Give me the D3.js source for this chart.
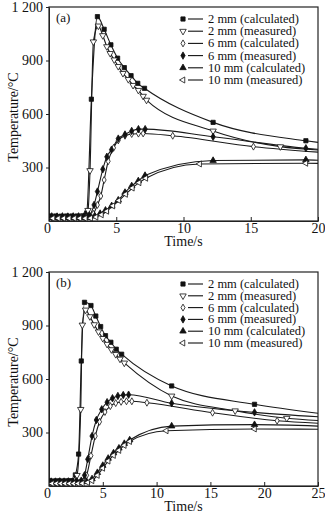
<!DOCTYPE html>
<html><head><meta charset="utf-8">
<script src="https://cdn.jsdelivr.net/npm/d3@7"></script>
<style>
html,body{margin:0;padding:0;background:#fff;}
svg text{font-family:"Liberation Serif","Times New Roman",serif;fill:#111;}
</style></head>
<body><svg id="c" width="325" height="516"></svg>
<script>
// ---------- data ----------
const seriesNames = ["2 mm (calculated)","2 mm (measured)","6 mm (calculated)","6 mm (measured)","10 mm (calculated)","10 mm (measured)"];
const yTicks = [300, 600, 900, 1200];
const xTicksA = [0, 5, 10, 15, 20];
const xTicksB = [0, 5, 10, 15, 20, 25];

// Panel (a)
const a2cT = [0.1,0.5,0.9,1.3,1.7,2.1,2.5,2.8,3.15,3.6,4.1,4.6,5.1,5.6,6.1,6.6,7.1,12.2,19.1,20];
const a2cV = [28,28,27,28,28,28,29,45,683,1146,1075,988,913,860,815,772,744,553,450,441];
const a2mT = [0.2,0.6,1.0,1.4,1.8,2.2,2.6,2.9,3.05,3.3,3.67,4.0,4.3,4.55,4.85,5.15,5.5,5.9,6.25,6.65,7.0,7.25,12.2,17.2,20];
const a2mV = [22,22,23,22,23,23,24,60,283,1005,1094,1040,978,940,904,867,828,794,761,733,700,678,505,417,398];
const a6cT = [0.3,0.7,1.1,1.5,1.9,2.3,2.7,3.1,3.3,3.6,3.85,4.1,4.4,4.8,5.15,5.65,6.15,6.65,7.0,9.2,15.2,20];
const a6cV = [20,20,19,20,20,20,20,24,40,90,140,230,335,410,452,478,488,490,491,478,417,386];
const a6mT = [0.2,0.6,1.0,1.4,1.8,2.2,2.6,3.0,3.35,3.6,4.0,4.3,4.65,5.15,5.65,6.15,6.65,7.15,12.2,19.1,20];
const a6mV = [26,25,26,25,26,26,26,32,90,165,290,360,400,462,485,505,515,515,472,408,402];
const a10cT = [0.1,0.5,0.9,1.3,1.7,2.1,2.5,2.9,3.4,3.8,4.2,4.66,5.15,5.65,6.15,6.64,7.14,12.2,19.1,20];
const a10cV = [18,18,18,18,18,18,18,19,28,42,60,85,117,160,197,225,255,339,343,341];
const a10mT = [0.3,0.7,1.1,1.5,1.9,2.3,2.7,3.1,3.5,3.9,4.3,4.75,5.2,5.7,6.2,6.7,7.2,11.2,19.1,20];
const a10mV = [15,15,15,15,15,15,15,16,22,35,55,85,115,150,185,215,240,320,324,323];

// Panel (b)
const b2cT = [0.1,0.5,0.9,1.3,1.7,2.1,2.45,2.75,3.0,3.3,3.9,4.35,4.8,5.25,5.75,6.25,6.75,11.4,19.1,25];
const b2cV = [28,28,29,28,29,30,62,179,701,1030,1012,953,894,843,806,767,739,561,458,408];
const b2mT = [0.2,0.6,1.0,1.4,1.8,2.2,2.6,2.95,3.1,3.4,3.8,4.2,4.6,5.0,5.4,5.8,6.2,6.6,7.0,11.4,17.3,22.1,25];
const b2mV = [20,20,21,20,21,22,60,430,903,987,950,905,865,828,795,765,738,712,690,505,422,380,367];
const b6cT = [0.3,0.7,1.1,1.5,1.9,2.3,2.7,3.1,3.5,3.9,4.3,4.7,5.2,5.7,6.2,6.7,7.2,7.7,9.1,15.2,21.2,25];
const b6cV = [15,15,15,15,15,15,16,22,60,170,280,360,415,448,465,472,475,475,467,411,366,352];
const b6mT = [0.2,0.6,1.0,1.4,1.8,2.2,2.6,3.0,3.3,3.6,4.0,4.4,4.9,5.4,5.9,6.4,6.9,7.4,11.4,19.1,25];
const b6mV = [25,25,26,25,26,26,26,30,60,150,280,370,430,470,492,505,510,512,464,413,388];
const b10cT = [0.1,0.5,0.9,1.3,1.7,2.1,2.5,2.9,3.5,4.0,4.5,5.0,5.5,6.0,6.5,7.0,7.5,11.4,19.1,25];
const b10cV = [20,20,20,20,20,20,20,20,24,40,75,115,155,185,212,238,258,336,344,336];
const b10mT = [0.3,0.7,1.1,1.5,1.9,2.3,2.7,3.1,3.6,4.0,4.5,5.0,5.5,6.0,6.5,7.0,7.5,10.9,19.1,25];
const b10mV = [14,14,14,14,14,14,14,15,20,30,60,100,140,172,200,228,250,310,320,318];

// ---------- styling ----------
const symbols = [
  {type: d3.symbolSquare, size: 18, fill: true, rot: 0},
  {type: d3.symbolTriangle, size: 18, fill: false, rot: 180},
  {type: d3.symbolDiamond, size: 14, fill: false, rot: 0},
  {type: d3.symbolDiamond, size: 16, fill: true, rot: 0},
  {type: d3.symbolTriangle, size: 18, fill: true, rot: 0},
  {type: d3.symbolTriangle, size: 16, fill: false, rot: -90}
];

const svg = d3.select("#c");

function fmtY(v){ return v >= 1000 ? "1 200" : String(v); }

function drawPanel(cfg){
  const g = svg.append("g");
  const x = d3.scaleLinear().domain([0, cfg.xmax]).range([cfg.left, cfg.right]);
  const y = d3.scaleLinear().domain([0, 1200]).range([cfg.bottom, cfg.top]);
  const clipId = "clip" + cfg.id;
  svg.append("clipPath").attr("id", clipId).append("rect")
    .attr("x", cfg.left).attr("y", cfg.top - 2)
    .attr("width", cfg.right - cfg.left).attr("height", cfg.bottom - cfg.top + 2);

  // frame
  g.append("rect").attr("x", cfg.left).attr("y", cfg.top)
    .attr("width", cfg.right - cfg.left).attr("height", cfg.bottom - cfg.top)
    .attr("fill", "none").attr("stroke", "#222").attr("stroke-width", 1.2);

  // axes
  const xa = g.append("g").attr("transform", `translate(0,${cfg.bottom})`)
    .call(d3.axisBottom(x).tickValues(cfg.xticks).tickSizeInner(-4).tickSizeOuter(0).tickPadding(2).tickFormat(d3.format("d")));
  xa.select(".domain").attr("stroke", "#222");
  xa.selectAll("line").attr("stroke", "#222");
  xa.selectAll("text").attr("font-size", 14).attr("font-family", "Liberation Serif").attr("fill", "#111")
    .attr("dx", d => d === 0 ? -2 : 0);

  const ya = g.append("g").attr("transform", `translate(${cfg.left},0)`)
    .call(d3.axisLeft(y).tickValues(yTicks).tickSize(3).tickSizeOuter(0).tickPadding(3).tickFormat(fmtY));
  ya.select(".domain").attr("stroke", "#222");
  ya.selectAll("line").attr("stroke", "#222");
  ya.selectAll("text").attr("font-size", 14).attr("font-family", "Liberation Serif").attr("fill", "#111");

  // axis titles
  g.append("text").attr("x", (cfg.left + cfg.right) / 2).attr("y", cfg.bottom + 25)
    .attr("text-anchor", "middle").attr("font-size", 14).text("Time/s");
  g.append("text").attr("transform", `translate(13,${(cfg.top + cfg.bottom) / 2 + 3}) rotate(-90)`)
    .attr("text-anchor", "middle").attr("dominant-baseline", "central").attr("font-size", 14).text("Temperature/\u00B0C");

  // panel label
  g.append("text").attr("x", cfg.left + 7).attr("y", cfg.top + 15).attr("font-size", 13).text(cfg.label);

  // series
  const line = d3.line().x(d => x(d[0])).y(d => y(d[1])).curve(d3.curveMonotoneX);
  const plot = g.append("g").attr("clip-path", `url(#${clipId})`);
  cfg.series.forEach((s) => {
    const pts = s.t.map((t, k) => [t, s.v[k]]);
    plot.append("path").datum(pts).attr("d", line)
      .attr("fill", "none").attr("stroke", "#1a1a1a").attr("stroke-width", 1.1);
  });
  cfg.series.forEach((s, i) => {
    const sym = symbols[i];
    const pts = s.t.map((t, k) => [t, s.v[k]]).filter(d => d[0] < cfg.xmax);
    plot.selectAll(null).data(pts).enter().append("path")
      .attr("d", d3.symbol().type(sym.type).size(sym.size))
      .attr("transform", d => `translate(${x(d[0])},${y(d[1])}) rotate(${sym.rot})`)
      .attr("fill", sym.fill ? "#111" : "#fff").attr("stroke", "#111").attr("stroke-width", 0.8);
  });

  // legend
  const lg = g.append("g");
  seriesNames.forEach((name, i) => {
    const yy = cfg.legendTop + i * cfg.legendStep;
    const sym = symbols[i];
    lg.append("path").attr("d", d3.symbol().type(sym.type).size(sym.size))
      .attr("transform", `translate(183,${yy}) rotate(${sym.rot})`)
      .attr("fill", sym.fill ? "#111" : "#fff").attr("stroke", "#111").attr("stroke-width", 0.8);
    lg.append("line").attr("x1", 188).attr("x2", 203).attr("y1", yy).attr("y2", yy)
      .attr("stroke", "#111").attr("stroke-width", 1.1);
    lg.append("text").attr("x", 208).attr("y", yy).attr("dominant-baseline", "central")
      .attr("font-size", 12.5).text(name);
  });
}

drawPanel({
  id: "a", left: 49, right: 318, top: 7, bottom: 221, xmax: 20, xticks: xTicksA, label: "(a)",
  legendTop: 19, legendStep: 12.2,
  series: [
    {t: a2cT, v: a2cV}, {t: a2mT, v: a2mV}, {t: a6cT, v: a6cV},
    {t: a6mT, v: a6mV}, {t: a10cT, v: a10cV}, {t: a10mT, v: a10mV}
  ]
});
drawPanel({
  id: "b", left: 49, right: 318, top: 272, bottom: 486, xmax: 25, xticks: xTicksB, label: "(b)",
  legendTop: 284, legendStep: 11.8,
  series: [
    {t: b2cT, v: b2cV}, {t: b2mT, v: b2mV}, {t: b6cT, v: b6cV},
    {t: b6mT, v: b6mV}, {t: b10cT, v: b10cV}, {t: b10mT, v: b10mV}
  ]
});
</script></body></html>
